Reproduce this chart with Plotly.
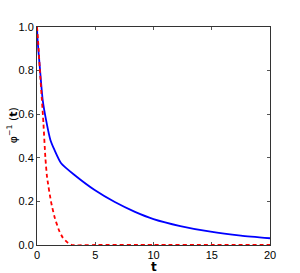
import plotly.graph_objects as go

# Blue solid curve
t_blue = [0, 0.05, 0.26, 0.49, 0.78, 1.15, 1.5, 2.07, 3.22, 4.95, 6.68, 8.41, 10.0, 12.3, 14.9, 17.5, 20.0]
phi_blue = [1.0, 0.94, 0.803, 0.665, 0.573, 0.482, 0.436, 0.375, 0.321, 0.252, 0.197, 0.152, 0.119, 0.087, 0.061, 0.043, 0.031]

# Red dashed curve
t_red = [0, 0.1, 0.25, 0.42, 0.55, 0.72, 0.86, 1.2, 1.5, 1.87, 2.2, 2.65, 3.0, 5.0, 10.0, 15.0, 20.0]
phi_red = [1.0, 0.93, 0.8, 0.665, 0.56, 0.4, 0.313, 0.2, 0.13, 0.07, 0.035, 0.01, 0.0, 0.0, 0.0, 0.0, 0.0]

x_ticks = [0, 5, 10, 15, 20]
y_ticks = [0.0, 0.2, 0.4, 0.6, 0.8, 1.0]
y_ticklabels = ["0.0", "0.2", "0.4", "0.6", "0.8", "1.0"]

fig = go.Figure()
fig.add_trace(go.Scatter(x=t_blue, y=phi_blue, mode="lines",
                         line=dict(color="#0000ff", width=1.8, shape="spline", smoothing=0.6)))
fig.add_trace(go.Scatter(x=t_red, y=phi_red, mode="lines",
                         line=dict(color="#ff0000", width=1.8, dash="4px,3px", shape="spline", smoothing=0.6)))

font = dict(family="Liberation Sans, Arial, sans-serif", size=11, color="black")
fig.update_layout(
    width=300, height=273,
    margin=dict(l=37, r=30, t=27, b=28),
    paper_bgcolor="white", plot_bgcolor="white",
    showlegend=False,
    font=font,
    annotations=[
        dict(text="<b>t</b>", xref="paper", yref="paper", x=0.5, y=-0.058, xanchor="center", yanchor="top",
             showarrow=False, font=dict(family="DejaVu Sans", size=12, color="black")),
        dict(text="φ<sup>−1</sup> (<b>t</b>)", xref="paper", yref="paper", x=-0.107, y=0.55, xanchor="center", yanchor="middle",
             textangle=-90, showarrow=False, font=dict(family="DejaVu Sans", size=11, color="black")),
    ],
)
fig.update_xaxes(
    range=[0, 20], tickvals=x_ticks, ticks="inside", ticklen=3, tickcolor="#555",
    showline=True, linecolor="#333", linewidth=1, mirror="ticks",
    showgrid=False, zeroline=False, layer="below traces", automargin=False,
)
fig.update_yaxes(
    range=[0, 1], tickvals=y_ticks, ticktext=y_ticklabels, ticks="inside", ticklen=3, tickcolor="#555",
    showline=True, linecolor="#333", linewidth=1, mirror="ticks",
    showgrid=False, zeroline=False, layer="below traces", automargin=False,
)
fig.write_html("out.html", config={"displayModeBar": False},
               post_script="document.body.style.margin='0';")
